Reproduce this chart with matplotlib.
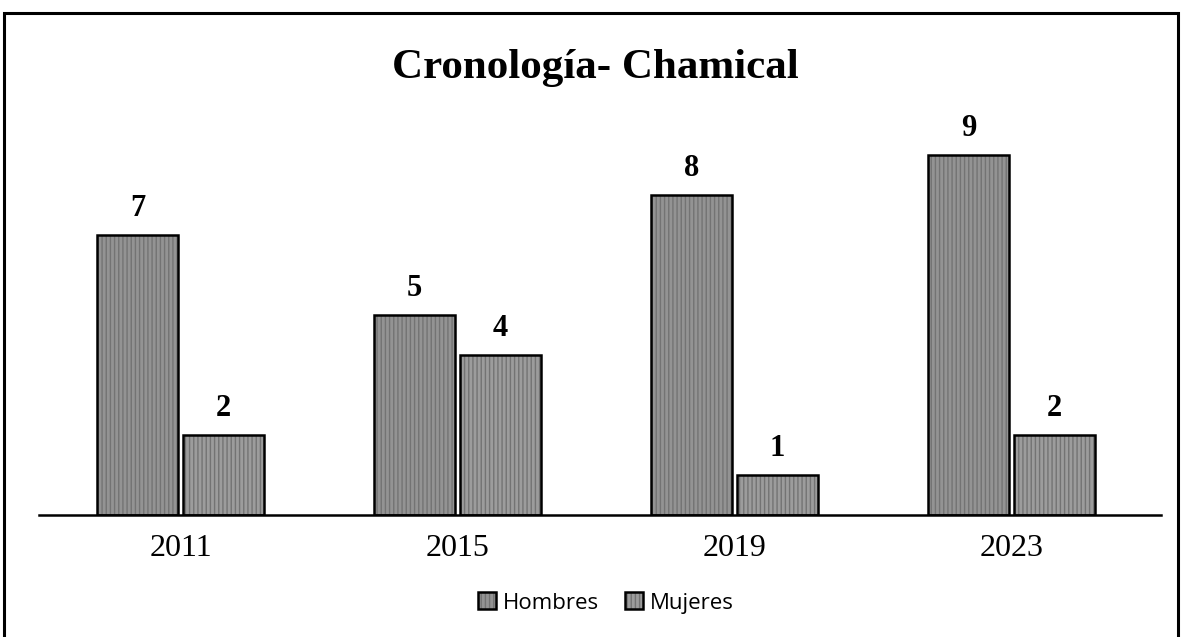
import numpy as np
import matplotlib.pyplot as plt
from matplotlib.patches import Rectangle

# data
years = ['2011', '2015', '2019', '2023']
hombres = [7, 5, 8, 9]
mujeres = [2, 4, 1, 2]

W, H = 1183, 637
fig = plt.figure(figsize=(W / 100, H / 100), dpi=100)

# axes placed in pixel terms: baseline at y=515, 40 px per unit
left, right = 42, 1150
base, top = 515, 115
ax = fig.add_axes([left / W, (H - base) / H, (right - left) / W, (base - top) / H])

x = np.arange(len(years))
width = 0.295
off = 0.155
b1 = ax.bar(x - off, hombres, width, color='#939393', edgecolor='black', linewidth=1.8,
            hatch='||||', label='Hombres')
b2 = ax.bar(x + off, mujeres, width, color='#9c9c9c', edgecolor='black', linewidth=1.8,
            hatch='||||', label='Mujeres')
for bars in (b1, b2):
    for b in bars:
        b._hatch_color = (0.45, 0.45, 0.45, 1)

for xs, vals in ((x - off, hombres), (x + off, mujeres)):
    for xi, v in zip(xs, vals):
        ax.text(xi, v + 0.3, str(v), ha='center', va='bottom', fontsize=22,
                fontweight='bold', family='Liberation Serif')

ax.set_xlim(-0.5, 3.5)
ax.set_ylim(0, 10)
ax.set_xticks(x)
ax.set_xticklabels(years, family='Liberation Serif', fontsize=23)
ax.tick_params(axis='x', length=0, pad=14)
ax.set_yticks([])
for s in ('top', 'right', 'left'):
    ax.spines[s].set_visible(False)
ax.spines['bottom'].set_linewidth(1.8)
ax.spines['bottom'].set_bounds(-0.51, 3.54)

fig.text(595 / W, 1 - 68 / H, 'Cronología- Chamical', ha='center', va='center',
         fontsize=31, fontweight='bold', family='Liberation Serif')

leg = fig.legend(loc='center', bbox_to_anchor=(606 / W, 1 - 603 / H), ncol=2,
                 frameon=False, prop={'family': 'Open Sans', 'size': 16},
                 handlelength=0.8, handleheight=0.8, handletextpad=0.3, columnspacing=1.2)

# outer frame of the scanned chart
fig.patches.append(Rectangle((4 / W, -0.05), (1178 - 4) / W, 1 - 13 / H + 0.05,
                             transform=fig.transFigure, fill=False,
                             edgecolor='black', linewidth=2.2))

fig.savefig('out.png', dpi=100)
